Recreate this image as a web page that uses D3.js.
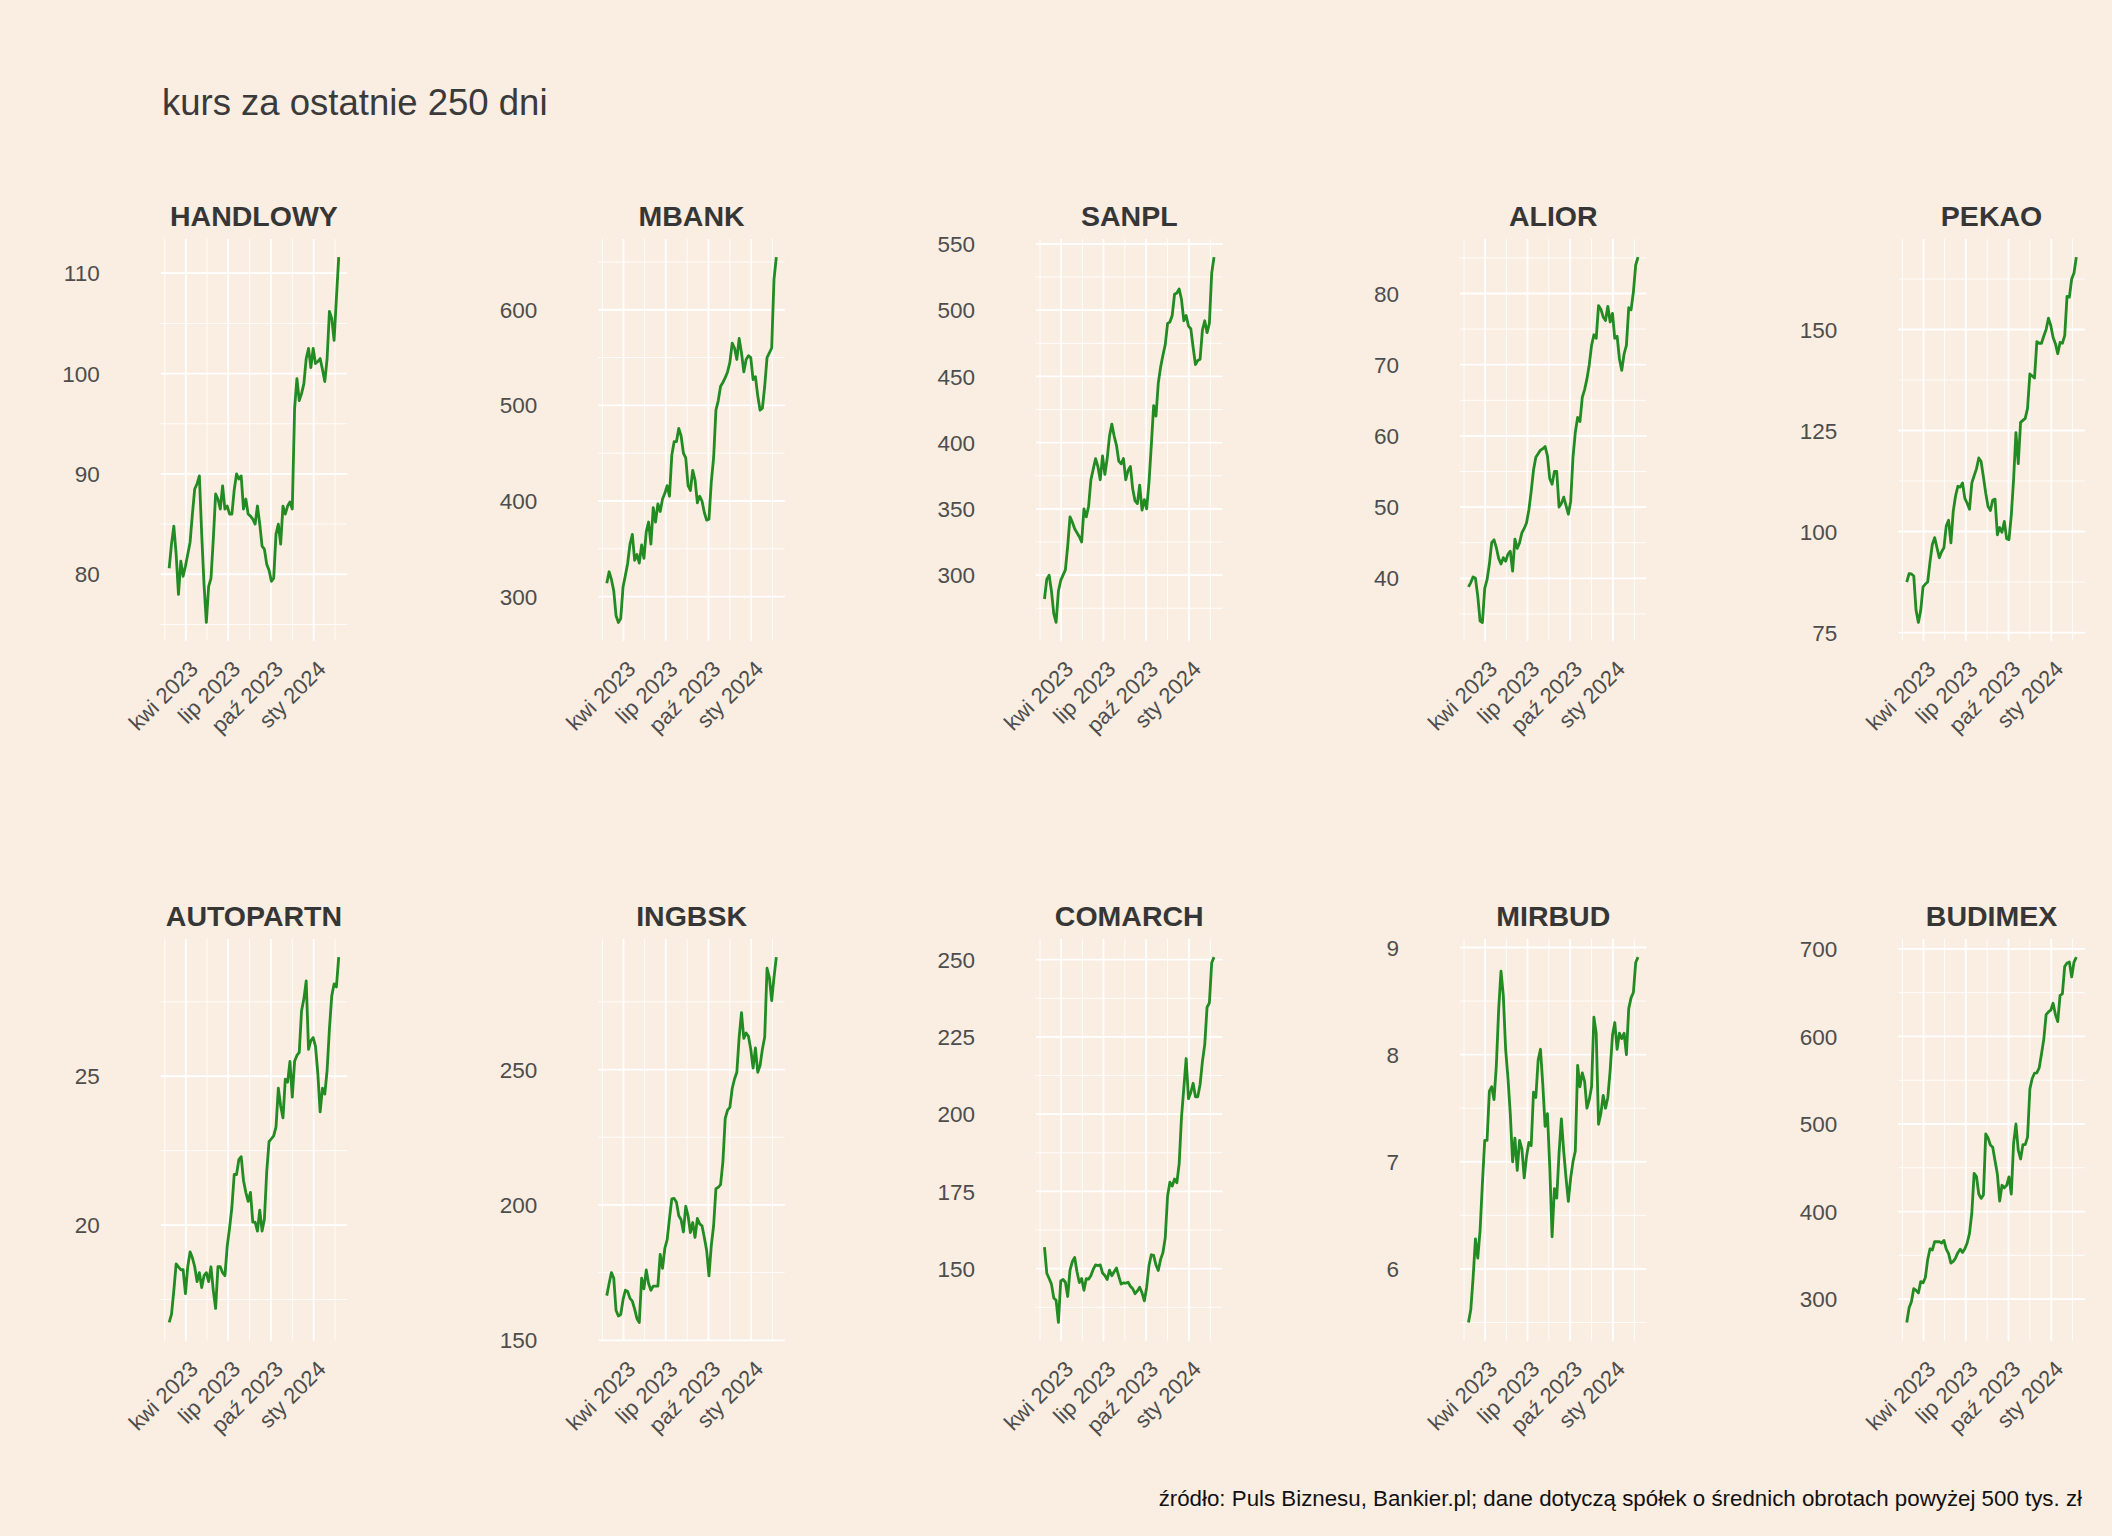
<!DOCTYPE html>
<html>
<head>
<meta charset="utf-8">
<script src="https://cdn.jsdelivr.net/npm/d3@7"></script>
<style>
  body { margin: 0; background: #FAEDE1; }
  text { font-family: "Liberation Sans", Arial, sans-serif; }
</style>
</head>
<body>
<svg id="chart" width="2112" height="1536"></svg>
<script>
// data: closing prices, every 5 days
var dates = ["2023-02-24","2023-03-01","2023-03-06","2023-03-11","2023-03-16","2023-03-21","2023-03-26","2023-03-31",
  "2023-04-05","2023-04-10","2023-04-15","2023-04-20","2023-04-25","2023-04-30","2023-05-05","2023-05-10","2023-05-15",
  "2023-05-20","2023-05-25","2023-05-30","2023-06-04","2023-06-09","2023-06-14","2023-06-19","2023-06-24","2023-06-29",
  "2023-07-04","2023-07-09","2023-07-14","2023-07-19","2023-07-24","2023-07-29","2023-08-03","2023-08-08","2023-08-13",
  "2023-08-18","2023-08-23","2023-08-28","2023-09-02","2023-09-07","2023-09-12","2023-09-17","2023-09-22","2023-09-27",
  "2023-10-02","2023-10-07","2023-10-12","2023-10-17","2023-10-22","2023-10-27","2023-11-01","2023-11-06","2023-11-11",
  "2023-11-16","2023-11-21","2023-11-26","2023-12-01","2023-12-06","2023-12-11","2023-12-16","2023-12-21","2023-12-26",
  "2023-12-31","2024-01-05","2024-01-10","2024-01-15","2024-01-20","2024-01-25","2024-01-30","2024-02-04","2024-02-09",
  "2024-02-14","2024-02-19","2024-02-24"];

var handlowy = [80.6,83.0,84.8,82.0,78.0,81.3,79.8,80.8,82.0,83.2, 86.0,88.5,89.0,89.8,84.0,79.0,75.2,78.8,79.6,83.5,
  88.0,87.5,86.5,88.8,86.5,86.8,86.0,86.0,88.4,90.0, 89.5,89.8,86.5,87.5,86.0,85.8,85.5,85.0,86.8,85.0,
  82.8,82.5,81.0,80.4,79.3,79.6,84.0,85.0,83.0,86.8, 86.0,86.8,87.2,86.5,96.5,99.5,97.3,98.0,99.0,101.5,
  102.5,100.6,102.5,101.0,101.2,101.5,100.4,99.2,101.5,106.2, 105.5,103.3,107.5,111.6];
var mbank = [314,326,318,306,280,273,277,310,322,335, 355,365,338,344,335,354,340,368,378,355,
  393,378,397,389,402,408,416,405,448,462, 462,476,468,450,445,416,411,432,422,398,
  405,400,388,380,381,420,445,495,505,520, 524,529,535,545,565,560,548,570,555,535,
  548,552,550,527,530,510,495,497,520,550, 555,560,632,655];
var sanpl = [282,297,300,288,271,264.3,288,296,300,304, 322,344,340,335,332,329,325,350,344,352,
  372,380,388,382,372,390,376,388,405,414, 405,398,386,384,388,372,379,382,365,356,
  354,368,349,357,350,370,398,428,420,445, 457,466,474,490,491,496,512,513,516,508,
  492,496,488,486,472,459,462,463,485,492, 483,490,528,540];
var alior = [38.8,39.4,40.2,40.0,37.5,34.0,33.8,38.6,39.8,42.0, 45.0,45.4,44.3,42.8,42.0,42.9,42.4,43.4,43.8,41.0,
  45.5,44.2,45.0,46.4,47.0,47.8,49.6,52.2,55.2,57.0, 57.5,58.0,58.2,58.5,57.2,54.0,53.2,55.0,55.0,50.0,
  50.5,51.4,50.2,49.0,50.8,57.0,60.5,62.6,62.0,65.4, 66.5,68.0,70.0,72.7,74.2,73.7,78.3,77.8,76.7,76.2,
  78.2,76.0,77.2,73.7,74.0,70.8,69.2,71.5,72.7,78.0, 77.7,80.2,84.0,85.1];
var pekao = [87.5,89.6,89.5,89.0,80.5,77.5,80.5,86.3,87.0,87.5, 92.5,96.8,98.5,96.0,93.5,95.0,96.0,101.4,102.8,97.2,
  105.0,108.8,111.2,111.0,112.0,108.2,107.0,105.5,112.0,113.8, 115.5,118.2,117.3,113.5,109.5,106.2,105.2,107.8,108.0,99.2,
  101.0,99.8,102.5,98.2,98.0,104.0,113.0,124.5,116.8,127.0, 127.5,128.0,130.5,139.0,138.5,138.0,147.0,146.6,146.6,148.4,
  150.0,152.8,151.0,148.0,146.5,144.0,146.8,146.6,148.5,158.2, 158.0,162.5,164.0,167.9];
var autopartn = [16.73,17.0,17.8,18.7,18.6,18.5,18.5,17.7,18.6,19.1, 18.9,18.6,18.1,18.4,17.9,18.3,18.4,18.1,18.6,17.8,
  17.2,18.6,18.6,18.4,18.3,19.3,19.9,20.6,21.7,21.7, 22.2,22.3,21.5,21.1,20.8,21.1,20.1,20.1,19.8,20.5,
  19.8,20.2,21.8,22.8,22.9,23.0,23.3,24.6,24.0,23.6, 24.9,24.8,25.5,24.3,25.5,25.7,25.8,27.2,27.6,28.2,
  25.9,26.2,26.3,26.0,25.1,23.8,24.6,24.4,25.2,26.6, 27.7,28.1,28.0,29.0];
var ingbsk = [166.5,171,175,173,161,159,159.5,165,168.5,168, 165.5,164.5,161.5,158,156.6,173,169,176,171,168.5,
  170,170,170,181.7,176.6,184,187.2,195,202.2,202.4, 201,196,194.5,190,199.5,196,189.8,193.5,188,195,
  193,192.3,188,183.2,173.8,185,192.3,206,206.5,207.5, 216,232,235,236,243,246.5,249,262,271,261.5,
  263.5,262.3,257.5,250.5,258,249,251.5,257.5,262,287.4, 284,275.5,284,291.5];
var comarch = [157,148.5,146.8,145,140.5,139.8,132.6,146,146.5,145.6, 141,149.5,152.3,153.6,149,145.5,146.8,143,146.8,146.6,
  147.8,149.8,151.2,151,151.2,148.6,147.8,146.5,149.5,147.7, 149,150.2,147.5,145,145.4,145.3,145.6,144.3,143.5,141.9,
  142.8,144,142.2,139.6,144,151,154.5,154.3,151.2,149.4, 153,155.2,160,173.5,178,176.7,179,177.8,184,199,
  208.5,218,205,207,210,205.6,205.6,209.6,217,222.5, 234.6,236,249,250.8];
var mirbud = [5.50,5.62,5.92,6.28,6.10,6.36,6.80,7.20,7.20,7.66, 7.70,7.58,7.90,8.42,8.78,8.55,8.05,7.78,7.45,7.00,
  7.22,6.92,7.20,7.12,6.85,7.05,7.18,7.15,7.65,7.60, 7.95,8.05,7.72,7.33,7.45,6.95,6.30,6.75,6.66,7.08,
  7.40,7.10,6.85,6.63,6.85,7.00,7.10,7.90,7.70,7.83, 7.75,7.50,7.58,7.70,8.35,8.20,7.35,7.45,7.62,7.50,
  7.60,7.85,8.18,8.30,8.05,8.20,8.15,8.20,8.00,8.43, 8.53,8.58,8.86,8.91];
var budimex = [273.3,290,297,312,310,307,320,318.5,324.6,345, 357.4,356,365.6,365.5,365.6,364,367,357,352,341,
  343,347,353,357,353.3,357.4,364,375,398,443.6, 440,420,415,418.9,488.7,484,476,473.5,458,443,
  412,430,427,430,439.5,420,478,500,470,460, 476.4,476.4,485,540,552,558,558.5,564,580,597,
  625,628,630,638,625,617,647,648.7,680,684, 685,668,685,690.6];

// tick values and labels
var xTickDates = ["2023-04-01","2023-07-01","2023-10-01","2024-01-01"];
var xTickLabels = ["kwi 2023","lip 2023","paź 2023","sty 2024"];
var handlowyTicks = [80,90,100,110];
var mbankTicks = [300,400,500,600];
var sanplTicks = [300,350,400,450,500,550];
var aliorTicks = [40,50,60,70,80];
var pekaoTicks = [75,100,125,150];
var autopartnTicks = [20,25];
var ingbskTicks = [150,200,250];
var comarchTicks = [150,175,200,225,250];
var mirbudTicks = [6,7,8,9];
var budimexTicks = [300,400,500,600,700];

var tickers = ["HANDLOWY","MBANK","SANPL","ALIOR","PEKAO","AUTOPARTN","INGBSK","COMARCH","MIRBUD","BUDIMEX"];
var series = [handlowy, mbank, sanpl, alior, pekao, autopartn, ingbsk, comarch, mirbud, budimex];
var ticks = [handlowyTicks, mbankTicks, sanplTicks, aliorTicks, pekaoTicks,
             autopartnTicks, ingbskTicks, comarchTicks, mirbudTicks, budimexTicks];

//layout
var colLeft = [160.7, 598.3, 1036, 1460, 1898.3];
var rowTop = [238.9, 938.9];
var panelW = 186.5, panelH = 401.8;
var bg = '#FAEDE1', lineColor = '#228B22';

var parse = d3.timeParse('%Y-%m-%d');
var days = dates.map(parse);
var xMajor = xTickDates.map(parse);

var svg = d3.select('#chart');
svg.append('rect').attr('width', 2112).attr('height', 1536).attr('fill', bg);

// ggplot-like 5% expansion
function expand(ext){
  var r = ext[1] - ext[0];
  return [ext[0] - r*0.05, ext[1] + r*0.05];
}
// midpoints between breaks, one more at each end
function minors(br, dom){
  var m = [];
  m.push(br[0] - (br[1]-br[0])/2);
  for(var i=0;i<br.length-1;i++) m.push((br[i]+br[i+1])/2);
  m.push(br[br.length-1] + (br[br.length-1]-br[br.length-2])/2);
  return m.filter(v => v >= dom[0] && v <= dom[1]);
}

svg.append('text')
    .attr('x', 162).attr('y', 115)
    .attr('font-size', 36.5).attr('fill', '#3a3a3a')
    .text('kurs za ostatnie 250 dni');

svg.append('text')
    .attr('x', 2082).attr('y', 1506)
    .attr('text-anchor', 'end')
    .attr('font-size', 22.3).attr('fill', '#111')
    .text('źródło: Puls Biznesu, Bankier.pl; dane dotyczą spółek o średnich obrotach powyżej 500 tys. zł');

tickers.forEach(function(name, k){
  var left = colLeft[k % 5], top = rowTop[Math.floor(k / 5)];
  var vals = series[k];
  var data = days.map((d, i) => ({date: d, value: vals[i]}));

  var x = d3.scaleTime().domain(expand(d3.extent(days).map(Number)).map(v => new Date(v)))
      .range([left, left + panelW]);
  var yDom = expand(d3.extent(vals));
  var y = d3.scaleLinear().domain(yDom).range([top + panelH, top]);

  var g = svg.append('g').attr('class', 'panel');
  var xDom = x.domain().map(Number);

  // minor grid
  minors(xMajor.map(Number), xDom).forEach(function(t){
    g.append('line').attr('x1', x(t)).attr('x2', x(t)).attr('y1', top).attr('y2', top + panelH)
        .attr('stroke', '#fff').attr('stroke-width', 0.9);
  });
  minors(ticks[k], yDom).forEach(function(v){
    g.append('line').attr('x1', left).attr('x2', left + panelW).attr('y1', y(v)).attr('y2', y(v))
        .attr('stroke', '#fff').attr('stroke-width', 0.9);
  });
  // major grid
  xMajor.forEach(function(t){
    g.append('line').attr('x1', x(t)).attr('x2', x(t)).attr('y1', top).attr('y2', top + panelH)
        .attr('stroke', '#fff').attr('stroke-width', 1.8);
  });
  ticks[k].forEach(function(v){
    g.append('line').attr('x1', left).attr('x2', left + panelW).attr('y1', y(v)).attr('y2', y(v))
        .attr('stroke', '#fff').attr('stroke-width', 1.8);
  });

  // price line
  g.append('path')
      .datum(data)
      .attr('fill', 'none')
      .attr('stroke', lineColor)
      .attr('stroke-width', 2.8)
      .attr('stroke-linejoin', 'round')
      .attr('d', d3.line().x(d => x(d.date)).y(d => y(d.value)));

  // y tick labels
  ticks[k].forEach(function(v){
    g.append('text')
        .attr('x', left - 61).attr('y', y(v)).attr('dy', '0.36em')
        .attr('text-anchor', 'end')
        .attr('font-size', 22.5).attr('fill', '#4d4d4d')
        .text(v);
  });
  // x tick labels, rotated
  xMajor.forEach(function(t, i){
    g.append('text')
        .attr('transform', `translate(${x(t) + 13.5}, ${top + panelH + 29.7}) rotate(-45)`)
        .attr('text-anchor', 'end')
        .attr('font-size', 22).attr('fill', '#4d4d4d')
        .text(xTickLabels[i]);
  });

  // strip title
  g.append('text')
      .attr('x', left + panelW / 2).attr('y', top - 13.2)
      .attr('text-anchor', 'middle')
      .attr('font-size', 28.5).attr('font-weight', 'bold').attr('fill', '#363636')
      .text(name);
});
</script>
</body>
</html>
